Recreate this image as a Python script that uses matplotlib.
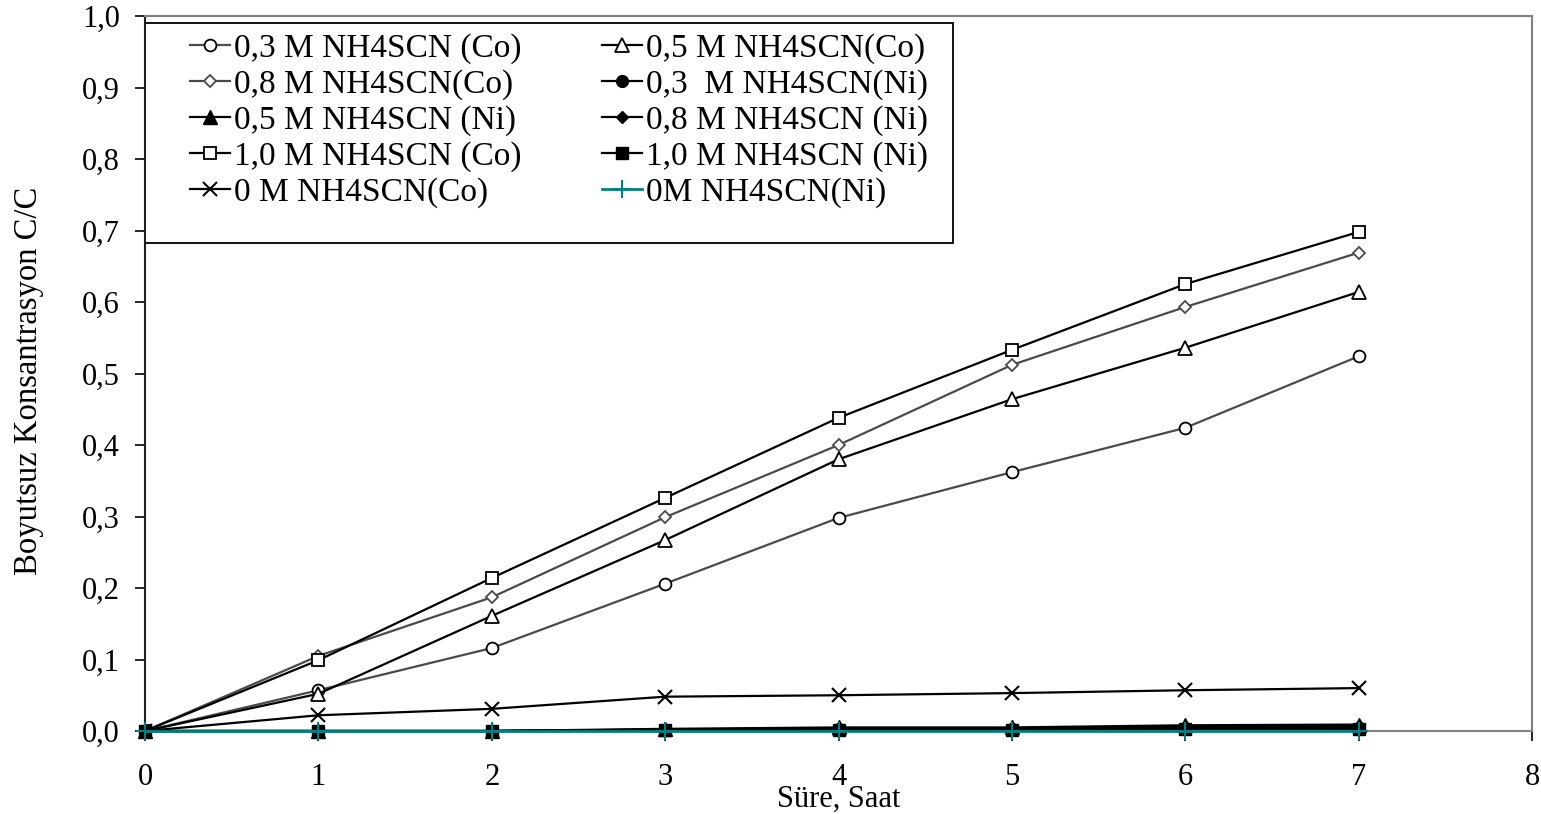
import matplotlib
matplotlib.use("Agg")
import matplotlib.pyplot as plt
from matplotlib.patches import Rectangle

plt.rcParams['font.family'] = ['Liberation Serif', 'DejaVu Serif']

# time (hours)
hours = [0, 1, 2, 3, 4, 5, 6, 7]

# dimensionless concentration C/Co
co_03 = [0.0, 0.057, 0.116, 0.206, 0.298, 0.362, 0.424, 0.524]
co_05 = [0.0, 0.052, 0.161, 0.267, 0.380, 0.464, 0.536, 0.614]
co_08 = [0.0, 0.105, 0.187, 0.299, 0.400, 0.512, 0.593, 0.669]
co_10 = [0.0, 0.099, 0.214, 0.326, 0.438, 0.533, 0.625, 0.698]
co_00 = [0.0, 0.022, 0.031, 0.048, 0.050, 0.053, 0.057, 0.060]
ni_03 = [0.0, 0.0, 0.0, 0.002, 0.003, 0.003, 0.004, 0.004]
ni_05 = [0.0, 0.0, 0.0, 0.003, 0.005, 0.005, 0.008, 0.009]
ni_08 = [0.0, 0.0, 0.0, 0.002, 0.004, 0.004, 0.006, 0.007]
ni_10 = [0.0, 0.0, 0.0, 0.001, 0.002, 0.002, 0.003, 0.003]
ni_00 = [0.0, 0.0, 0.0, 0.0, 0.0, 0.0, 0.0, 0.0]

labels = {
    'co_03': '0,3 M NH4SCN (Co)',
    'co_05': '0,5 M NH4SCN(Co)',
    'co_08': '0,8 M NH4SCN(Co)',
    'ni_03': '0,3  M NH4SCN(Ni)',
    'ni_05': '0,5 M NH4SCN (Ni)',
    'ni_08': '0,8 M NH4SCN (Ni)',
    'co_10': '1,0 M NH4SCN (Co)',
    'ni_10': '1,0 M NH4SCN (Ni)',
    'co_00': '0 M NH4SCN(Co)',
    'ni_00': '0M NH4SCN(Ni)',
}

fig = plt.figure(figsize=(15.41, 8.14), dpi=100)
ax = fig.add_axes([145 / 1541, 1 - 731 / 814, 1387 / 1541, 715 / 814])

lw = 1.6
ms = 8.5
grey = '#4a4a4a'
teal = '#008080'

h = {}
h['co_03'], = ax.plot(hours, co_03, color=grey, lw=lw, marker='o', ms=ms,
                      mfc='white', mec='black', mew=1.3)
h['co_08'], = ax.plot(hours, co_08, color=grey, lw=lw, marker='D', ms=ms - 2,
                      mfc='white', mec=grey, mew=1.3)
h['co_05'], = ax.plot(hours, co_05, color='black', lw=lw, marker='^', ms=ms + 1,
                      mfc='white', mec='black', mew=1.3)
h['co_10'], = ax.plot(hours, co_10, color='black', lw=lw, marker='s', ms=ms,
                      mfc='white', mec='black', mew=1.3)
h['co_00'], = ax.plot(hours, co_00, color='black', lw=lw, marker='x', ms=ms + 1,
                      mec='black', mew=1.5)
h['ni_05'], = ax.plot(hours, ni_05, color='black', lw=lw, marker='^', ms=ms + 1,
                      mfc='black', mec='black', clip_on=False, zorder=3)
h['ni_08'], = ax.plot(hours, ni_08, color='black', lw=lw, marker='D', ms=ms - 2,
                      mfc='black', mec='black', clip_on=False, zorder=3)
h['ni_03'], = ax.plot(hours, ni_03, color='black', lw=lw, marker='o', ms=ms,
                      mfc='black', mec='black', clip_on=False, zorder=3)
h['ni_10'], = ax.plot(hours, ni_10, color='black', lw=lw, marker='s', ms=ms,
                      mfc='black', mec='black', clip_on=False, zorder=3)
h['ni_00'], = ax.plot(hours, ni_00, color=teal, lw=2.0, marker='+', ms=ms + 5,
                      mec=teal, mew=1.5, clip_on=False, zorder=4)

# legend frame drawn separately so the left padding can match
frame = Rectangle((0.0, (731 - 243) / 715), (953 - 145) / 1387, (243 - 23) / 715,
                  transform=ax.transAxes, facecolor='white', edgecolor='black',
                  lw=1.3, zorder=5)
ax.add_patch(frame)

# legend is filled row by row in the original, matplotlib fills columns
order = ['co_03', 'co_08', 'ni_05', 'co_10', 'co_00',
         'co_05', 'ni_03', 'ni_08', 'ni_10', 'ni_00']
leg = ax.legend([h[k] for k in order], [labels[k] for k in order],
                ncol=2, loc='upper left',
                bbox_to_anchor=((190 - 145) / 1387, (731 - 33) / 715),
                fontsize=24, frameon=False, borderaxespad=0, borderpad=0,
                handlelength=1.2, handletextpad=0.12, labelspacing=0.16,
                columnspacing=2.4)
leg.set_zorder(6)

ax.set_xlim(0, 8)
ax.set_ylim(0, 1.0)
ax.set_xticks(range(0, 9))
ax.set_yticks([i / 10 for i in range(11)])
ax.set_yticklabels([f'{i / 10:.1f}'.replace('.', ',') for i in range(11)])
ax.tick_params(axis='both', direction='out', length=7, width=1.2, labelsize=22,
               colors='black')
ax.tick_params(axis='x', pad=16)
ax.tick_params(axis='y', pad=11)

for side in ['top', 'right', 'bottom']:
    ax.spines[side].set_color('#808080')
    ax.spines[side].set_linewidth(1.5)
ax.spines['left'].set_color('#202020')
ax.spines['left'].set_linewidth(1.5)

ax.set_xlabel('Süre, Saat', fontsize=22)
ax.xaxis.set_label_coords(0.5, -0.075)
ax.set_ylabel('Boyutsuz Konsantrasyon C/C', fontsize=23.5)
ax.yaxis.set_label_coords(-0.073, 0.49)

fig.savefig('out.png', dpi=100)
